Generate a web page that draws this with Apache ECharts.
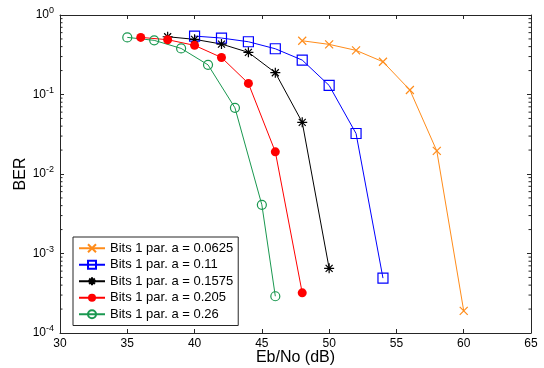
<!DOCTYPE html>
<html>
<head>
<meta charset="utf-8">
<script src="https://cdn.jsdelivr.net/npm/echarts@6/dist/echarts.min.js"></script>
<style>
  html, body { margin: 0; padding: 0; background: #fff; }
  #chart { width: 544px; height: 368px; }
</style>
</head>
<body>
<div id="chart"></div>
<script>
// Eb/No (dB) and BER
const ebA0625 = [48, 50, 52, 54, 56, 58, 60];
const berA0625 = [0.474, 0.427, 0.359, 0.258, 0.114, 0.0195, 0.00019];
const ebA11 = [40, 42, 44, 46, 48, 50, 52, 54];
const berA11 = [0.543, 0.513, 0.461, 0.376, 0.271, 0.13, 0.0323, 0.00049];
const ebA1575 = [38, 40, 42, 44, 46, 48, 50];
const berA1575 = [0.533, 0.494, 0.431, 0.339, 0.188, 0.0447, 0.00065];
const ebA205 = [36, 38, 40, 42, 44, 46, 48];
const berA205 = [0.523, 0.489, 0.415, 0.292, 0.138, 0.019, 0.00032];
const ebA26 = [35, 37, 39, 41, 43, 45, 46];
const berA26 = [0.523, 0.48, 0.38, 0.236, 0.068, 0.0041, 0.00029];

const names = ['Bits 1 par. a = 0.0625', 'Bits 1 par. a = 0.11', 'Bits 1 par. a = 0.1575',
  'Bits 1 par. a = 0.205', 'Bits 1 par. a = 0.26'];
// minor ticks of the log axis (2..9 x 10^n)
const minorTickVals = [];
for (let e = -4; e < 0; e++) for (let m = 2; m <= 9; m++) minorTickVals.push(m * Math.pow(10, e));

const xSym = 'path://M0,0L10,10M0,10L10,0';
const starSym = 'path://M5,0L5,10M0,5L10,5M1.5,1.5L8.5,8.5M1.5,8.5L8.5,1.5';
const font = 'Liberation Sans';

function pairs(xs, ys) { return xs.map((x, i) => [x, ys[i]]); }

function lineSeries(name, xs, ys, color, symbol, size, filled) {
  return {
    name, type: 'line', data: pairs(xs, ys),
    symbol, symbolSize: size, showAllSymbol: true,
    lineStyle: { color, width: 1 },
    itemStyle: filled
      ? { color, borderColor: color, borderWidth: 0 }
      : { color: 'rgba(255,255,255,0)', borderColor: color, borderWidth: 1.2 },
    emphasis: { disabled: true },
    animation: false
  };
}

const chart = echarts.init(document.getElementById('chart'), null, { renderer: 'canvas' });
const axisLine = { show: true, lineStyle: { color: '#262626', width: 1 } };
const expLabel = v => '{b|10}{s|' + Math.round(Math.log10(v)) + '}';

chart.setOption({
  backgroundColor: '#fff',
  animation: false,
  grid: { left: 60, right: 13, top: 15, bottom: 35, outerBoundsMode: 'none', containLabel: false },
  legend: {
    orient: 'vertical', left: 73, top: 237,
    data: names,
    backgroundColor: '#fff', borderColor: '#262626', borderWidth: 1,
    padding: [4, 5, 4, 5], itemGap: 2, itemWidth: 26, itemHeight: 10,
    textStyle: { fontFamily: font, fontSize: 13, color: '#000', lineHeight: 14.5 }
  },
  xAxis: [
    {
      type: 'value', min: 30, max: 65, interval: 5,
      name: 'Eb/No (dB)', nameLocation: 'middle', nameGap: 17, nameMoveOverlap: false,
      nameTextStyle: { fontFamily: font, fontSize: 16, color: '#000' },
      axisLine, splitLine: { show: false },
      axisTick: { inside: true, length: 4, lineStyle: { color: '#262626' } },
      axisLabel: { fontFamily: font, fontSize: 12, color: '#000', margin: 5 }
    },
    {
      type: 'value', position: 'top', min: 30, max: 65, interval: 5,
      axisLine, splitLine: { show: false },
      axisTick: { inside: true, length: 4, lineStyle: { color: '#262626' } },
      axisLabel: { show: false }
    }
  ],
  yAxis: [
    {
      type: 'log', logBase: 10, min: 1e-4, max: 1,
      name: 'BER', nameLocation: 'middle', nameGap: 31, nameMoveOverlap: false,
      nameTextStyle: { fontFamily: font, fontSize: 16, color: '#000' },
      axisLine, splitLine: { show: false },
      axisTick: { inside: true, length: 4, lineStyle: { color: '#262626' } },
      axisLabel: {
        margin: 6, formatter: expLabel,
        rich: {
          b: { fontFamily: font, fontSize: 12, color: '#000' },
          s: { fontFamily: font, fontSize: 9, color: '#000', verticalAlign: 'bottom', padding: [0, 0, 8, 0] }
        }
      }
    },
    {
      type: 'log', logBase: 10, min: 1e-4, max: 1, position: 'right',
      axisLine, splitLine: { show: false },
      axisTick: { inside: true, length: 4, lineStyle: { color: '#262626' } },
      axisLabel: { show: false }
    }
  ],
  series: [
    {
      type: 'custom', silent: true, animation: false, z: 1,
      data: minorTickVals.map(v => [30, v]),
      renderItem: function (params, api) {
        const p = api.coord([30, api.value(1)]);
        const cs = params.coordSys;
        const style = { stroke: '#262626', lineWidth: 1 };
        return {
          type: 'group', children: [
            { type: 'line', shape: { x1: cs.x, y1: p[1], x2: cs.x + 2.5, y2: p[1] }, style },
            { type: 'line', shape: { x1: cs.x + cs.width, y1: p[1], x2: cs.x + cs.width - 2.5, y2: p[1] }, style }
          ]
        };
      }
    },
    lineSeries(names[0], ebA0625, berA0625, '#ff8c1a', xSym, 8, false),
    lineSeries(names[1], ebA11, berA11, '#0000ff', 'rect', 10, false),
    lineSeries(names[2], ebA1575, berA1575, '#000000', starSym, 10, false),
    lineSeries(names[3], ebA205, berA205, '#ff0000', 'circle', 9, true),
    lineSeries(names[4], ebA26, berA26, '#1a9850', 'circle', 9, false)
  ]
});
</script>
</body>
</html>
